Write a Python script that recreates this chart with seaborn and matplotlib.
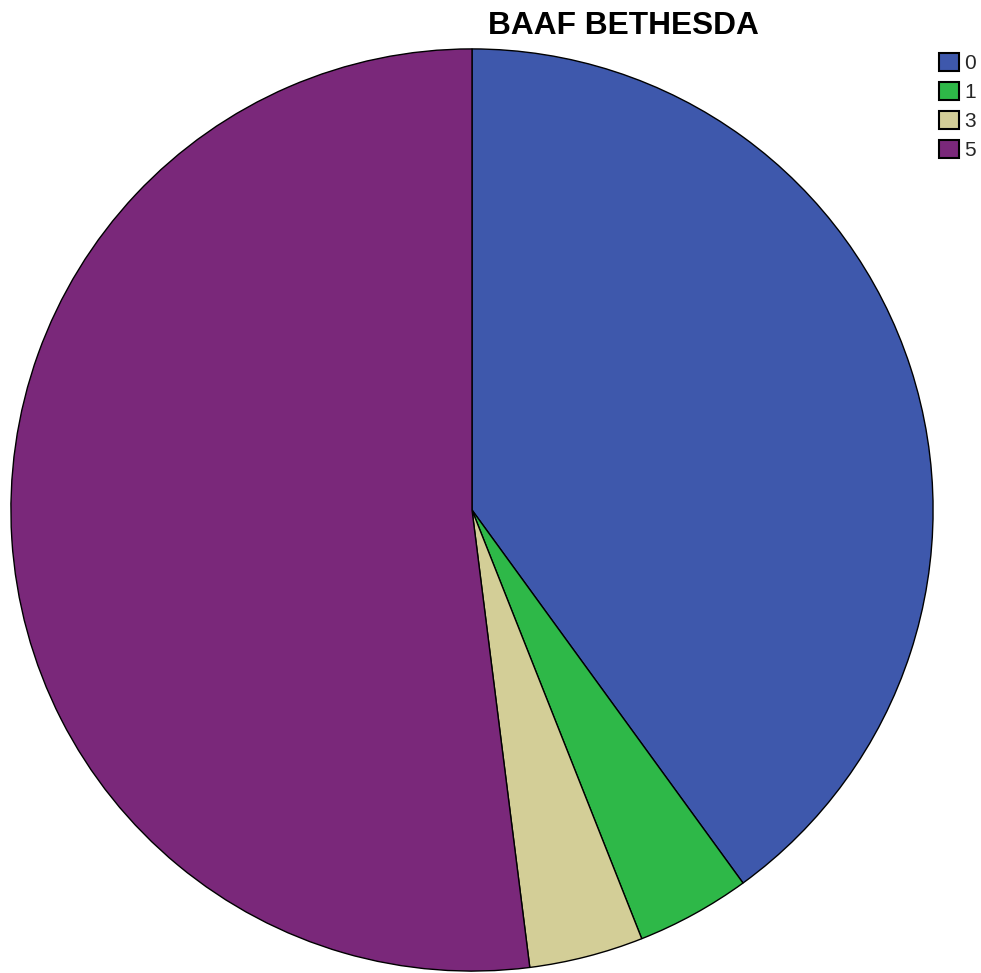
import matplotlib
matplotlib.use("Agg")
import matplotlib.pyplot as plt
import seaborn as sns
from matplotlib.patches import Patch

categories = ["0", "1", "3", "5"]
counts = [10, 1, 1, 13]
colors = ["#3E58AC", "#2EB848", "#D3CE97", "#7A287A"]
title = "BAAF BETHESDA"

sns.set_theme(style="white")
plt.rcParams['font.family'] = ['Liberation Sans', 'DejaVu Sans']

fig = plt.figure(figsize=(9.81, 9.73), dpi=100)
W, H = 981, 973
cx, cy, r = 472, 510, 462
ax = fig.add_axes([(cx - r) / W, (H - cy - r) / H, 2 * r / W, 2 * r / H])
ax.pie(counts, colors=colors, startangle=90, counterclock=False,
       wedgeprops=dict(edgecolor="black", linewidth=1.0), radius=1.0)
ax.set_xlim(-1.002, 1.002)
ax.set_ylim(-1.002, 1.002)
ax.set_aspect("equal")
ax.axis("off")

fig.text(623.5 / W, 1 - 26 / H, title, ha="center", va="center",
         fontsize=22.8, fontweight="bold", color="black")

handles = [Patch(facecolor=c, edgecolor="black", linewidth=1.5) for c in colors]
leg = fig.legend(handles, categories, loc="upper left",
                 bbox_to_anchor=(939 / W, 1 - 53 / H), frameon=False,
                 fontsize=15, handlelength=0.96, handleheight=0.96,
                 handletextpad=0.25, labelspacing=0.42, borderpad=0.0,
                 borderaxespad=0.0)

fig.savefig("out.png", dpi=100, facecolor="white")
